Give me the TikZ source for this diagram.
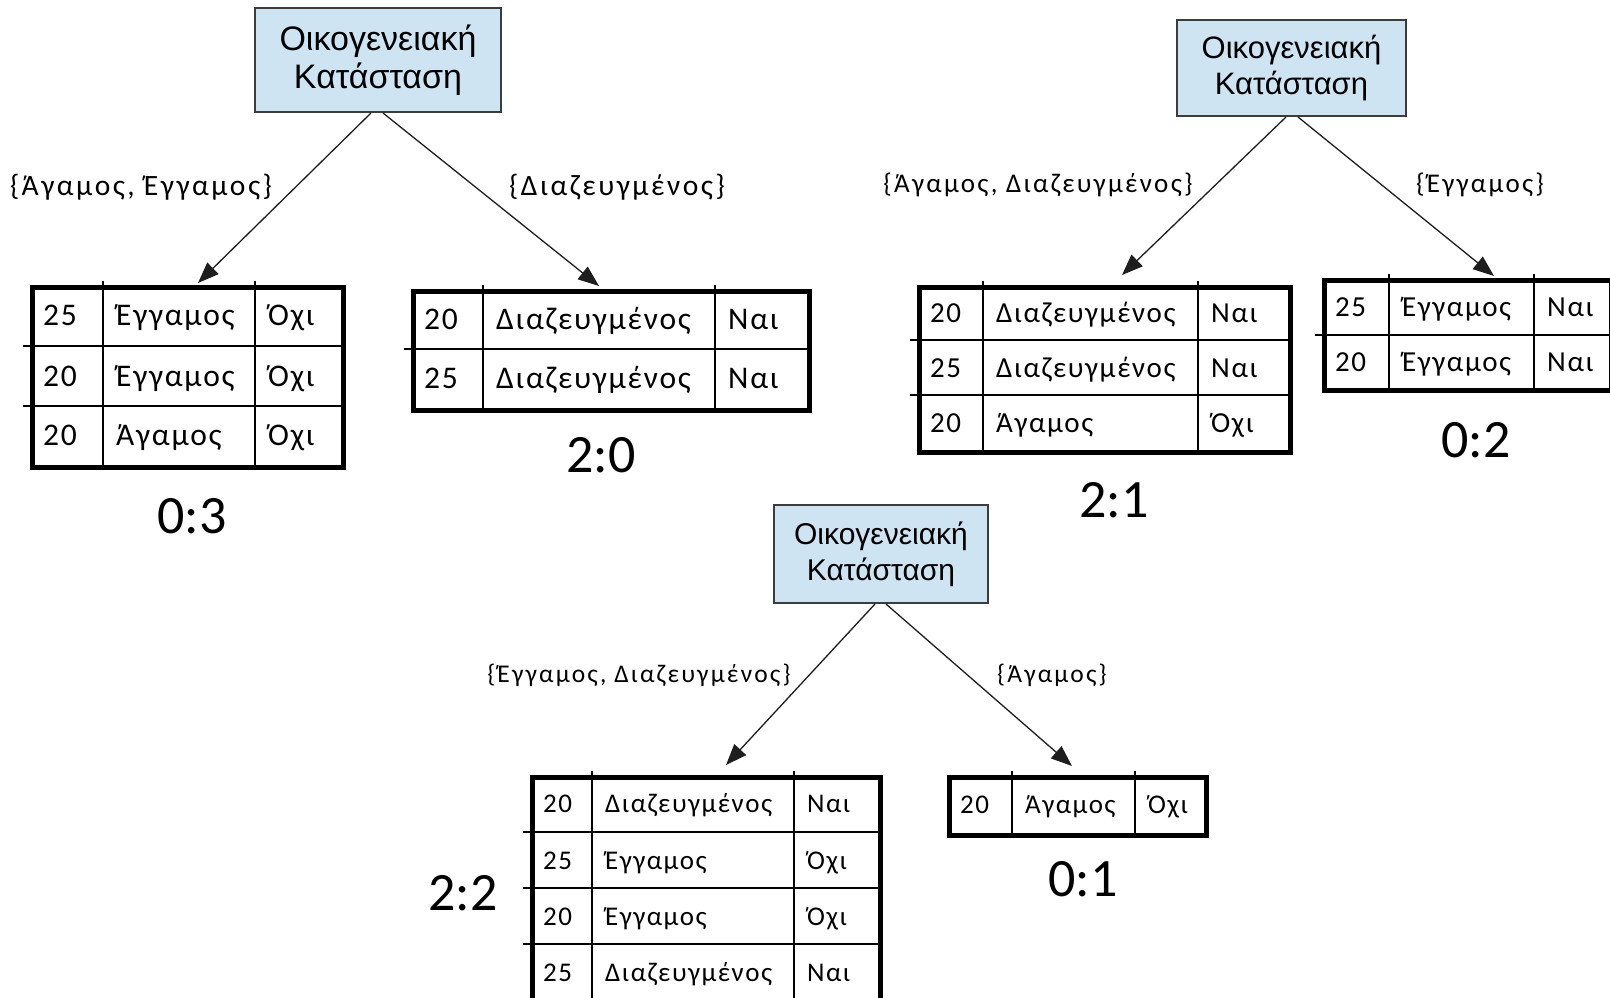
\documentclass[tikz,border=0pt]{standalone}
\usepackage{fontspec}
\setmainfont{Carlito}
\newfontfamily\hdrfont{Liberation Sans}
\newfontfamily\celfont[LetterSpace=5.5]{Carlito}
\newfontfamily\lblfont[LetterSpace=8.5]{Carlito}
\usetikzlibrary{arrows.meta}

\definecolor{hdrfill}{RGB}{207,228,243}
\definecolor{hdrline}{RGB}{60,60,60}
\definecolor{edgeline}{RGB}{30,30,30}

\newcommand\fsz[1]{\fontsize{#1}{#1}\selectfont}

% one table row: name prefix, baseline y, three column left edges, three texts
\newcommand\trow[8]{%
  \node[cell] (#1a) at (#3+13,#2) {#6};
  \node[cell] (#1b) at (#4+13,#2) {#7};
  \node[cell] (#1c) at (#5+13,#2) {#8};}

\tikzset{
  hdr/.style={draw=hdrline, line width=2pt, fill=hdrfill, align=center, inner sep=0pt},
  arr/.style={draw=edgeline, line width=1.3pt, -{Triangle[length=21pt,width=16pt]}},
  tframe/.style={draw=black, line width=4.5pt, inner sep=0pt, anchor=north west},
  rule/.style={draw=black, line width=1.5pt},
  cell/.style={anchor=base west, inner sep=0pt},
  elab/.style={inner sep=0pt},
  score/.style={inner sep=0pt, font=\fsz{54}},
}

\begin{document}
\begin{tikzpicture}[x=1pt,y=-1pt]
\useasboundingbox (0,0) rectangle (1610,997);

% ---------- tree 1 ----------
\node[hdr, minimum width=246pt, minimum height=104pt, font=\hdrfont\fontsize{34}{37.5}\selectfont] (r1) at (378,60) {Οικογενειακή\\Κατάσταση};

\begin{scope}[cell/.append style={font=\celfont\fsz{31.5}}]
\draw[rule] (103,281) -- (103,469) (255,281) -- (255,469) (23,346) -- (344,346) (23,406) -- (344,406);
\node[tframe, minimum width=311pt, minimum height=180pt] (tA) at (30,285) {};
\trow{tA1}{325.5}{30}{103}{255}{25}{Έγγαμος}{Όχι}
\trow{tA2}{386}{30}{103}{255}{20}{Έγγαμος}{Όχι}
\trow{tA3}{445.5}{30}{103}{255}{20}{Άγαμος}{Όχι}
\end{scope}

\begin{scope}[cell/.append style={font=\celfont\fsz{31.5}}]
\draw[rule] (483,285) -- (483,412) (715,285) -- (715,412) (404,349) -- (810,349);
\node[tframe, minimum width=396pt, minimum height=119pt] (tB) at (411,289) {};
\trow{tB1}{329}{411}{483}{715}{20}{Διαζευγμένος}{Ναι}
\trow{tB2}{388.5}{411}{483}{715}{25}{Διαζευγμένος}{Ναι}
\end{scope}

\coordinate (a1) at (198,283);
\coordinate (b1) at (599,286);
\draw[arr] ([xshift=-7pt]r1.south) -- (a1);
\draw[arr] ([xshift=5pt]r1.south) -- (b1);
\node[elab, font=\lblfont\fsz{29.5}] (l1) at (141,187) {\{Άγαμος, Έγγαμος\}};
\node[elab, font=\lblfont\fsz{29.5}] (m1) at (617,187) {\{Διαζευγμένος\}};
\node[score] (s1) at (192,516) {0:3};
\node[score] (s2) at (601,455) {2:0};

% ---------- tree 2 ----------
\node[hdr, minimum width=229pt, minimum height=96pt, font=\hdrfont\fontsize{31}{36}\selectfont] (r2) at (1291.5,68) {Οικογενειακή\\Κατάσταση};

\begin{scope}[cell/.append style={font=\celfont\fsz{29}}]
\draw[rule] (983,281) -- (983,454) (1198,281) -- (1198,454) (910,340) -- (1291,340) (910,395) -- (1291,395);
\node[tframe, minimum width=371pt, minimum height=165pt] (tC) at (917,285) {};
\trow{tC1}{322}{917}{983}{1198}{20}{Διαζευγμένος}{Ναι}
\trow{tC2}{377}{917}{983}{1198}{25}{Διαζευγμένος}{Ναι}
\trow{tC3}{432}{917}{983}{1198}{20}{Άγαμος}{Όχι}
\end{scope}

\begin{scope}[cell/.append style={font=\celfont\fsz{29}}]
\draw[rule] (1389,274) -- (1389,392) (1534,274) -- (1534,392) (1315,335) -- (1615,335);
\node[tframe, minimum width=287pt, minimum height=110pt] (tD) at (1322,278) {};
\trow{tD1}{316}{1322}{1389}{1534}{25}{Έγγαμος}{Ναι}
\trow{tD2}{371}{1322}{1389}{1534}{20}{Έγγαμος}{Ναι}
\end{scope}

\coordinate (a2) at (1122,275);
\coordinate (b2) at (1494,276);
\draw[arr] ([xshift=-5.5pt]r2.south) -- (a2);
\draw[arr] ([xshift=6.5pt]r2.south) -- (b2);
\node[elab, font=\lblfont\fsz{27}] (l2) at (1038,185) {\{Άγαμος, Διαζευγμένος\}};
\node[elab, font=\lblfont\fsz{27}] (m2) at (1480,185) {\{Έγγαμος\}};
\node[score] (s3) at (1114,500) {2:1};
\node[score] (s4) at (1476,440) {0:2};

% ---------- tree 3 ----------
\node[hdr, minimum width=214pt, minimum height=98pt, font=\hdrfont\fontsize{30}{36}\selectfont] (r3) at (881,554) {Οικογενειακή\\Κατάσταση};

\begin{scope}[cell/.append style={font=\celfont\fsz{27}}]
\draw[rule] (592,771) -- (592,1005) (794,771) -- (794,1005) (523,832) -- (881,832) (523,888) -- (881,888) (523,944) -- (881,944);
\node[tframe, minimum width=348pt, minimum height=228pt] (tE) at (530,775) {};
\trow{tE1}{812.5}{530}{592}{794}{20}{Διαζευγμένος}{Ναι}
\trow{tE2}{869}{530}{592}{794}{25}{Έγγαμος}{Όχι}
\trow{tE3}{925}{530}{592}{794}{20}{Έγγαμος}{Όχι}
\trow{tE4}{981}{530}{592}{794}{25}{Διαζευγμένος}{Ναι}
\end{scope}

\begin{scope}[cell/.append style={font=\celfont\fsz{27}}]
\draw[rule] (1012,771) -- (1012,837) (1135,771) -- (1135,837);
\node[tframe, minimum width=257pt, minimum height=58pt] (tF) at (947,775) {};
\trow{tF1}{813}{947}{1012}{1135}{20}{Άγαμος}{Όχι}
\end{scope}

\coordinate (a3) at (726,765);
\coordinate (b3) at (1072,766);
\draw[arr] ([xshift=-6pt]r3.south) -- (a3);
\draw[arr] ([xshift=5pt]r3.south) -- (b3);
\node[elab, font=\lblfont\fsz{25.5}] (l3) at (639,675) {\{Έγγαμος, Διαζευγμένος\}};
\node[elab, font=\lblfont\fsz{25.5}] (m3) at (1052,675) {\{Άγαμος\}};
\node[score] (s5) at (463,893) {2:2};
\node[score] (s6) at (1083,879) {0:1};

\end{tikzpicture}
\end{document}
